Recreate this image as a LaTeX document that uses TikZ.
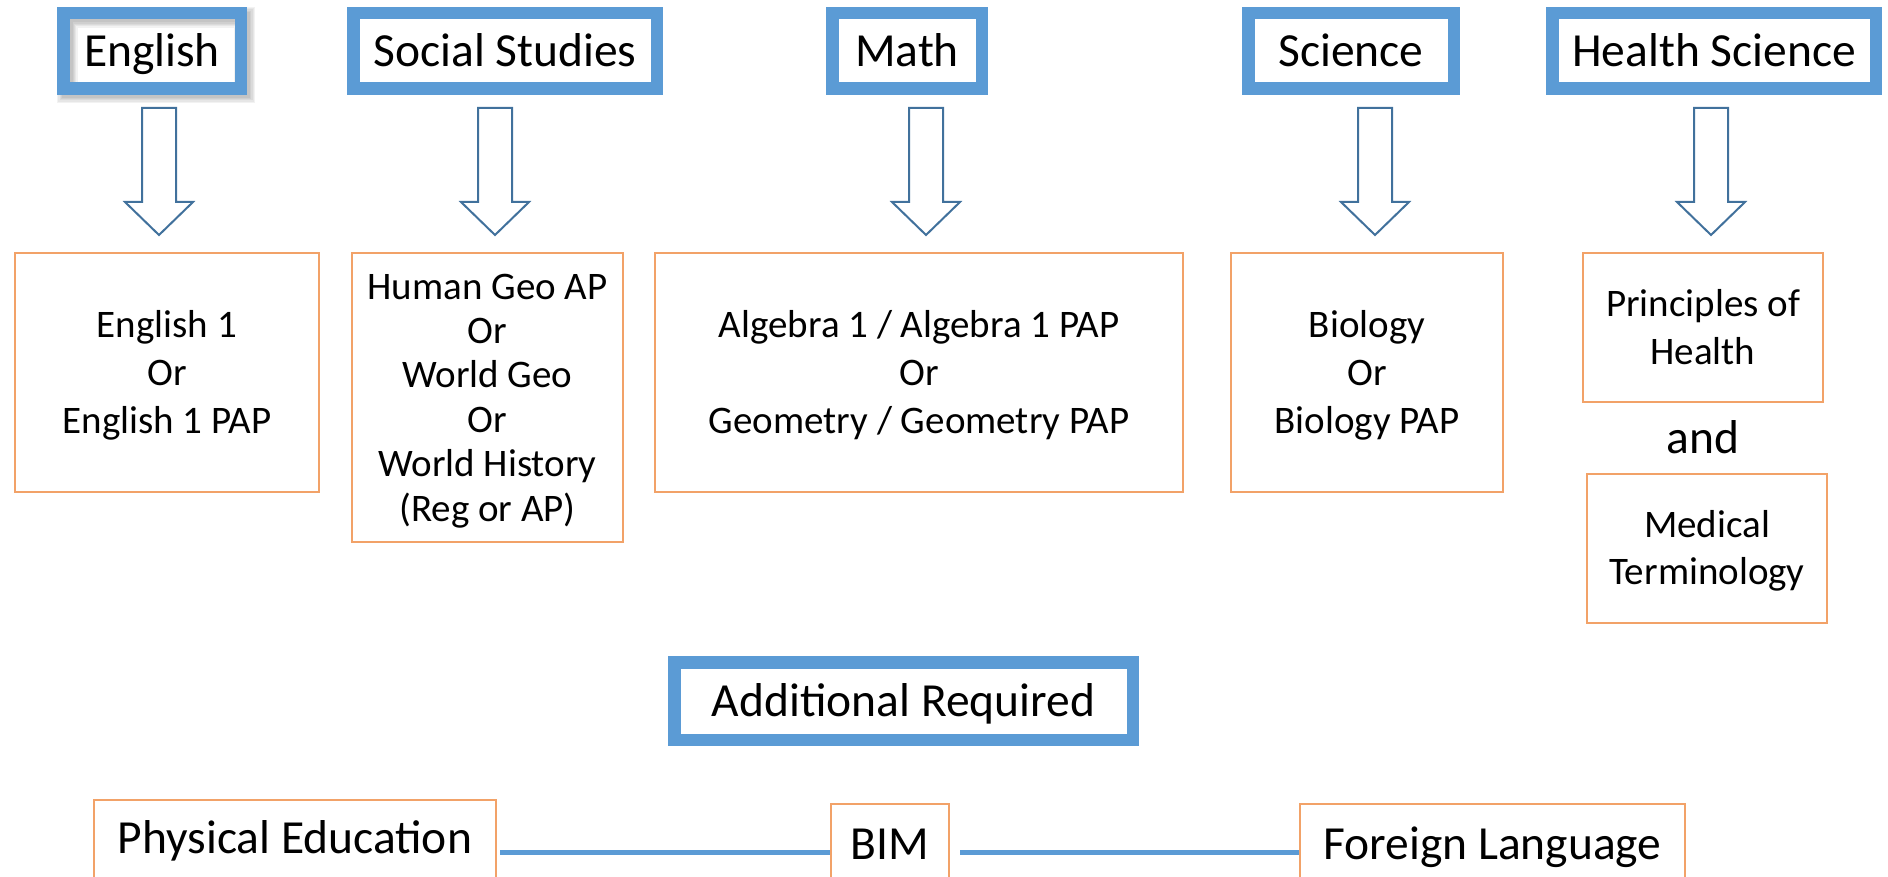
\documentclass[tikz,border=0pt]{standalone}
\usepackage{fontspec}
\setmainfont{Carlito}
\definecolor{hdrblue}{HTML}{5B9BD5}
\definecolor{arrblue}{HTML}{41719C}
\definecolor{boxorange}{RGB}{242,162,104}
\newcommand\cs{\rule[-0.26em]{0pt}{1.164em}}
\newcommand\dnarrow[1]{\draw[blockarrow] (#1-17,108) -- (#1+17,108) -- (#1+17,202) -- (#1+34,202) -- (#1,235) -- (#1-34,202) -- (#1-17,202) -- cycle;}
\tikzset{
  hdr/.style={draw=hdrblue, line width=6.25pt, inner sep=0pt, minimum height=37.75pt,
    font=\fontsize{23.75}{29}\selectfont},
  crs/.style={draw=boxorange, line width=1.1pt, inner sep=0pt, align=center,
    font=\fontsize{19.5}{24}\selectfont},
  bot/.style={draw=boxorange, line width=1.1pt, inner sep=0pt, text height=15.3pt,
    font=\fontsize{23.75}{29}\selectfont},
  conn/.style={draw=hdrblue, line width=2.5pt},
  blockarrow/.style={draw=arrblue, line width=1pt, fill=white, line join=miter},
  plain/.style={inner sep=0pt, font=\fontsize{23.75}{29}\selectfont},
  shadowlayer/.style={black, opacity=0.05}
}
\begin{document}
\begin{tikzpicture}[x=0.5pt,y=-0.5pt]
\useasboundingbox (0,0) rectangle (1888,877);
\clip (0,0) rectangle (1888,877);
% soft shadow of the English header
\foreach \w in {10.5,9,7.75,6.5,5.25} {
  \draw[shadowlayer, line width=\w pt] (67.25,17.25) rectangle (244.75,92.75);
}
% headers
\node[hdr, minimum width=88.75pt]  (eng)  at (152,51)  {\cs English};
\node[hdr, minimum width=151.75pt] (soc)  at (505,51)  {\cs Social Studies};
\node[hdr, minimum width=74.75pt]  (math) at (907,51)  {\cs Math};
\node[hdr, minimum width=102.75pt] (sci)  at (1351,51) {\cs Science};
\node[hdr, minimum width=161.75pt] (hs)   at (1714,51) {\cs Health Science};
\node[hdr, minimum width=229.25pt, minimum height=38.75pt] (add) at (903.5,701) {\cs Additional Required};
% block arrows
\dnarrow{159}
\dnarrow{495}
\dnarrow{926}
\dnarrow{1375}
\dnarrow{1711}
% course boxes
\node[crs, minimum width=152pt, minimum height=119.5pt] (e1) at (167,372.5)
  {\cs English 1\\Or\\English 1 PAP\cs};
\node[crs, minimum width=135.5pt, minimum height=144.5pt, font=\fontsize{19.5}{22.2}\selectfont] (s1) at (487.5,397.5)
  {\cs Human Geo AP\\Or\\World Geo\\Or\\World History\\(Reg or AP)\cs};
\node[crs, minimum width=264pt, minimum height=119.5pt] (m1) at (919,372.5)
  {\cs Algebra 1 / Algebra 1 PAP\\Or\\Geometry / Geometry PAP\cs};
\node[crs, minimum width=136pt, minimum height=119.5pt] (sc1) at (1367,372.5)
  {\cs Biology\\Or\\Biology PAP\cs};
\node[crs, minimum width=120pt, minimum height=74.5pt] (p1) at (1703,327.5)
  {\cs Principles of\\Health\cs};
\node[plain, anchor=base] (and) at (1703,453) {and};
\node[crs, minimum width=120pt, minimum height=74.5pt, font=\fontsize{19.5}{23.5}\selectfont] (md) at (1707,548.5)
  {\cs Medical\\Terminology\cs};
% bottom boxes
\node[bot, text depth=7.3pt, minimum width=201pt, minimum height=45pt] (pe) at (295,845) {Physical Education};
\node[bot, text depth=3.3pt, minimum width=59pt, minimum height=43pt] (bim) at (890,847) {BIM};
\node[bot, text depth=3.3pt, minimum width=192.5pt, minimum height=43pt] (fl) at (1492.5,847) {Foreign Language};
% connectors
\draw[conn] ([xshift=1.5pt,yshift=-3.5pt]pe.east) -- ([yshift=-3.5pt]pe.east -| bim.west);
\draw[conn] ([xshift=5pt,yshift=-2.5pt]bim.east) -- ([yshift=-2.5pt]bim.east -| fl.west);
\end{tikzpicture}
\end{document}
